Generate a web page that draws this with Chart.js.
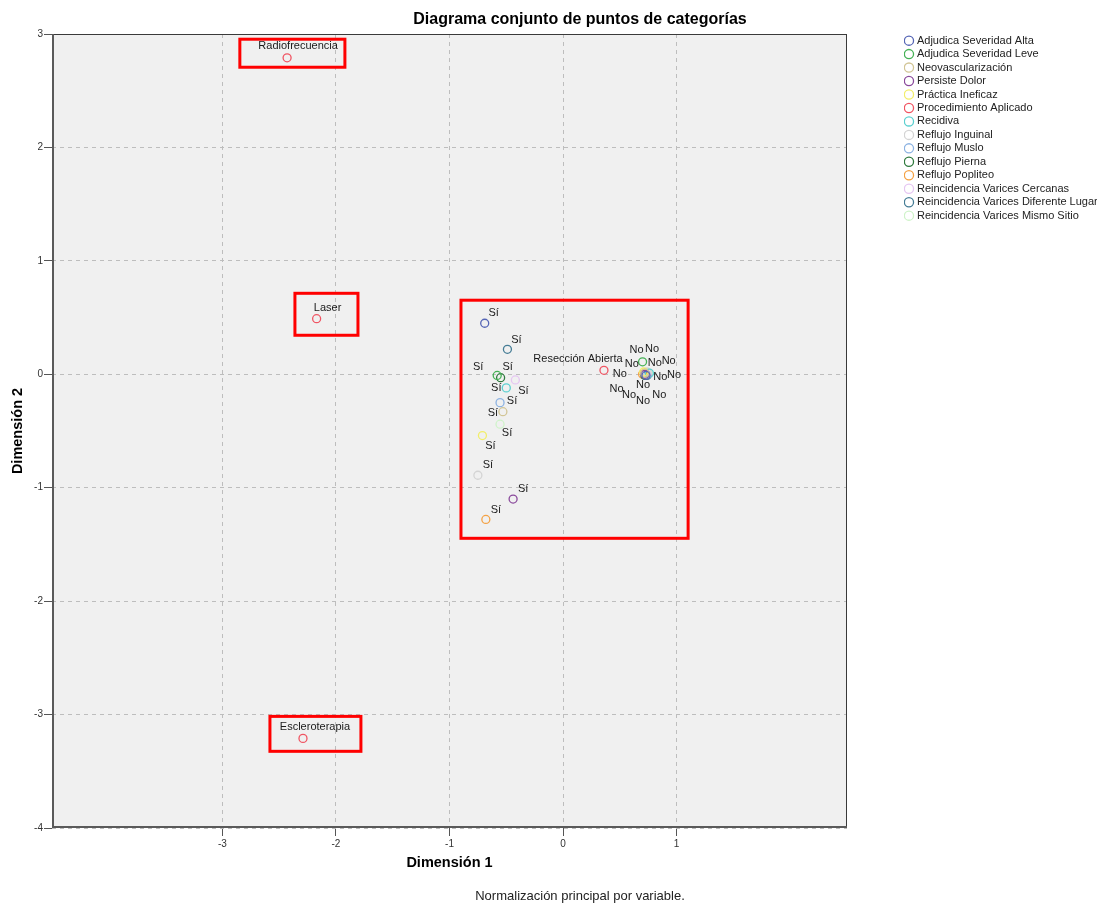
<!DOCTYPE html>
<html>
<head>
<meta charset="utf-8">
<script src="https://cdn.jsdelivr.net/npm/chart.js@4/dist/chart.umd.min.js"></script>
<style>
html,body{margin:0;padding:0;background:#fff;}
canvas{display:block;}
</style>
</head>
<body>
<canvas id="c" width="1097" height="903"></canvas>
<script>
// ---------- DATA ----------
const variableNames = [
  'Adjudica Severidad Alta', 'Adjudica Severidad Leve', 'Neovascularización', 'Persiste Dolor',
  'Práctica Ineficaz', 'Procedimiento Aplicado', 'Recidiva', 'Reflujo Inguinal', 'Reflujo Muslo',
  'Reflujo Pierna', 'Reflujo Popliteo', 'Reincidencia Varices Cercanas',
  'Reincidencia Varices Diferente Lugar', 'Reincidencia Varices Mismo Sitio'
];
// binary variables (categories Sí / No), same order as legend, without "Procedimiento Aplicado"
const binaryVariables = [
  'Adjudica Severidad Alta', 'Adjudica Severidad Leve', 'Neovascularización', 'Persiste Dolor',
  'Práctica Ineficaz', 'Recidiva', 'Reflujo Inguinal', 'Reflujo Muslo', 'Reflujo Pierna',
  'Reflujo Popliteo', 'Reincidencia Varices Cercanas', 'Reincidencia Varices Diferente Lugar',
  'Reincidencia Varices Mismo Sitio'
];
const binaryCategories = ['Sí', 'No'];
const siX = [-0.69, -0.58, -0.53, -0.44, -0.71, -0.50, -0.75, -0.555, -0.55, -0.68, -0.42, -0.49, -0.555];
const siY = [ 0.45, -0.01, -0.33, -1.10, -0.54, -0.12, -0.89, -0.25, -0.03, -1.28, -0.05, 0.22, -0.44];
const noX = [ 0.73,  0.70,  0.72,  0.72,  0.71,  0.76,  0.74,  0.73,  0.72,  0.70,  0.74,  0.74,  0.75];
const noY = [-0.01,  0.11,  0.01,  0.00,  0.02,  0.01,  0.02,  0.00, -0.01,  0.00,  0.00, -0.01,  0.01];

const procedureCategories = ['Radiofrecuencia', 'Laser', 'Escleroterapia', 'Resección Abierta'];
const procedureX = [-2.43, -2.17, -2.29, 0.36];
const procedureY = [ 2.79,  0.49, -3.21, 0.035];

const xTickValues = [-3, -2, -1, 0, 1];
const yTickValues = [3, 2, 1, 0, -1, -2, -3, -4];

// highlighted regions (red rectangles), in data units: [x1, y1, x2, y2]
const highlightBoxes = [
  [-2.846, 2.954, -1.921, 2.707],
  [-2.361, 0.714, -1.806, 0.344],
  [-2.581, -3.016, -1.780, -3.324],
  [-0.899, 0.653, 1.101, -1.446]
];

// ---------- STYLE ----------
const seriesColors = {
  'Adjudica Severidad Alta': '#5565b5',
  'Adjudica Severidad Leve': '#45b155',
  'Neovascularización': '#d2c596',
  'Persiste Dolor': '#8a4a9c',
  'Práctica Ineficaz': '#f2ee6a',
  'Procedimiento Aplicado': '#f05563',
  'Recidiva': '#5cd0d0',
  'Reflujo Inguinal': '#d4d4d4',
  'Reflujo Muslo': '#8db3e2',
  'Reflujo Pierna': '#2f7a3e',
  'Reflujo Popliteo': '#f4a245',
  'Reincidencia Varices Cercanas': '#e6c6f2',
  'Reincidencia Varices Diferente Lugar': '#457c95',
  'Reincidencia Varices Mismo Sitio': '#cff3c9'
};
// label offsets in px relative to the point: [ [dxSí,dySí], [dxNo,dyNo] ]
const labelOffsets = {
  'Adjudica Severidad Alta': [[9, -10], [6, -26]],
  'Adjudica Severidad Leve': [[-19, -8], [-6, -12]],
  'Neovascularización': [[-10, 1], [-13, -9]],
  'Persiste Dolor': [[10, -10], [10, -11]],
  'Práctica Ineficaz': [[8, 10], [25, -11]],
  'Recidiva': [[-10, 0], [11, 4]],
  'Reflujo Inguinal': [[10, -10], [27, 3]],
  'Reflujo Muslo': [[12, -2], [-3, 11]],
  'Reflujo Pierna': [[7, -11], [-25, -1]],
  'Reflujo Popliteo': [[10, -10], [-26, 15]],
  'Reincidencia Varices Cercanas': [[8, 11], [-18, 21]],
  'Reincidencia Varices Diferente Lugar': [[9, -9], [-4, 26]],
  'Reincidencia Varices Mismo Sitio': [[7, 9], [11, 22]],
  'Procedimiento Aplicado': [[11, -12], [11, -11], [12, -11], [-26, -11]]
};

const FONT = '"Liberation Sans", Arial, Helvetica, sans-serif';
Chart.defaults.font.family = FONT;
Chart.defaults.color = '#222';

const datasets = variableNames.map(name => {
  let points, labels;
  if (name === 'Procedimiento Aplicado') {
    points = procedureX.map((x, i) => ({x, y: procedureY[i]}));
    labels = procedureCategories;
  } else {
    const k = binaryVariables.indexOf(name);
    points = [{x: siX[k], y: siY[k]}, {x: noX[k], y: noY[k]}];
    labels = binaryCategories;
  }
  return {
    label: name,
    data: points,
    categoryLabels: labels,
    borderColor: seriesColors[name],
    backgroundColor: 'rgba(0,0,0,0)',
    borderWidth: 1.3,
    pointRadius: 4,
    pointHoverRadius: 4,
    pointStyle: 'circle'
  };
});

const plotDecor = {
  id: 'plotDecor',
  beforeLayout(chart) {
    const lg = chart.legend;
    if (lg && !lg._widthPatched) {
      const fit = lg.fit;
      lg.fit = function () { fit.call(this); this.width = 250; };
      lg._widthPatched = true;
    }
  },
  beforeDraw(chart) {
    const {ctx, chartArea: a} = chart;
    ctx.save();
    ctx.fillStyle = '#f0f0f0';
    ctx.fillRect(a.left, a.top, a.right - a.left, a.bottom - a.top);
    ctx.restore();
    const lg = chart.legend;
    if (lg) { lg.left = 904; lg.top = 32.7; }
  },
  afterDatasetsDraw(chart) {
    const {ctx, chartArea: a} = chart;
    // frame
    ctx.save();
    ctx.strokeStyle = '#3a3a3a';
    ctx.lineWidth = 1;
    ctx.strokeRect(a.left + 0.5, a.top + 0.5, a.right - a.left - 1, a.bottom - a.top - 1);
    ctx.strokeStyle = '#5a5a5a';
    ctx.lineWidth = 2;
    ctx.beginPath();
    ctx.moveTo(a.left + 1, a.top);
    ctx.lineTo(a.left + 1, a.bottom - 1);
    ctx.lineTo(a.right, a.bottom - 1);
    ctx.stroke();
    ctx.restore();

    // category labels
    ctx.save();
    ctx.font = '11px ' + FONT;
    ctx.fillStyle = '#1a1a1a';
    ctx.textAlign = 'center';
    ctx.textBaseline = 'middle';
    chart.data.datasets.forEach((ds, i) => {
      const meta = chart.getDatasetMeta(i);
      const offs = labelOffsets[ds.label];
      meta.data.forEach((el, j) => {
        const o = offs[j] || [8, -10];
        ctx.fillText(ds.categoryLabels[j], el.x + o[0], el.y + o[1]);
      });
    });
    ctx.restore();

    // red highlight rectangles
    const xs = chart.scales.x, ys = chart.scales.y;
    ctx.save();
    ctx.strokeStyle = '#ff0000';
    ctx.lineWidth = 3;
    highlightBoxes.forEach(b => {
      const x1 = xs.getPixelForValue(b[0]), y1 = ys.getPixelForValue(b[1]);
      const x2 = xs.getPixelForValue(b[2]), y2 = ys.getPixelForValue(b[3]);
      ctx.strokeRect(x1, y1, x2 - x1, y2 - y1);
    });
    ctx.restore();
  },
  afterDraw(chart) {
    const {ctx} = chart;
    ctx.save();
    ctx.fillStyle = '#000';
    ctx.textAlign = 'center';
    ctx.textBaseline = 'middle';
    ctx.font = 'bold 16px ' + FONT;
    ctx.fillText('Diagrama conjunto de puntos de categorías', 580, 20);
    ctx.fillStyle = '#222';
    ctx.font = '13px ' + FONT;
    ctx.fillText('Normalización principal por variable.', 580, 896);
    ctx.restore();
  }
};

new Chart(document.getElementById('c'), {
  type: 'scatter',
  data: {datasets},
  options: {
    responsive: false,
    animation: false,
    events: [],
    layout: {padding: {top: 34, left: 0, right: 0, bottom: 0}},
    scales: {
      x: {
        type: 'linear',
        min: -4.5, max: 2.5,
        afterBuildTicks: axis => { axis.ticks = xTickValues.map(v => ({value: v})); },
        afterFit: s => { s.height = 75; },
        ticks: {font: {size: 10}, color: '#333', padding: 2, autoSkip: false, maxRotation: 0},
        grid: {color: '#bdbdbd', lineWidth: 1, tickLength: 8, tickColor: '#555', tickWidth: 1, tickBorderDash: []},
        border: {display: false, dash: [4, 4]},
        title: {display: true, text: 'Dimensión 1', font: {size: 14.5, weight: 'bold'}, color: '#000', padding: {top: 0, bottom: 31}}
      },
      y: {
        type: 'linear',
        min: -4, max: 3,
        afterBuildTicks: axis => { axis.ticks = yTickValues.map(v => ({value: v})); },
        afterFit: s => { s.width = 52; },
        ticks: {font: {size: 10}, color: '#333', padding: 1, autoSkip: false},
        grid: {color: '#bdbdbd', lineWidth: 1, tickLength: 8, tickColor: '#555', tickWidth: 1, tickBorderDash: []},
        border: {display: false, dash: [4, 4]},
        title: {display: true, text: 'Dimensión 2', font: {size: 14.5, weight: 'bold'}, color: '#000', padding: {top: 9, bottom: 0}}
      }
    },
    plugins: {
      title: {display: false},
      tooltip: {enabled: false},
      legend: {
        display: true,
        position: 'right',
        align: 'start',
        labels: {
          usePointStyle: true,
          boxWidth: 5,
          boxHeight: 6.5,
          padding: 2.46,
          font: {size: 11},
          color: '#222'
        }
      }
    }
  },
  plugins: [plotDecor]
});
</script>
</body>
</html>
